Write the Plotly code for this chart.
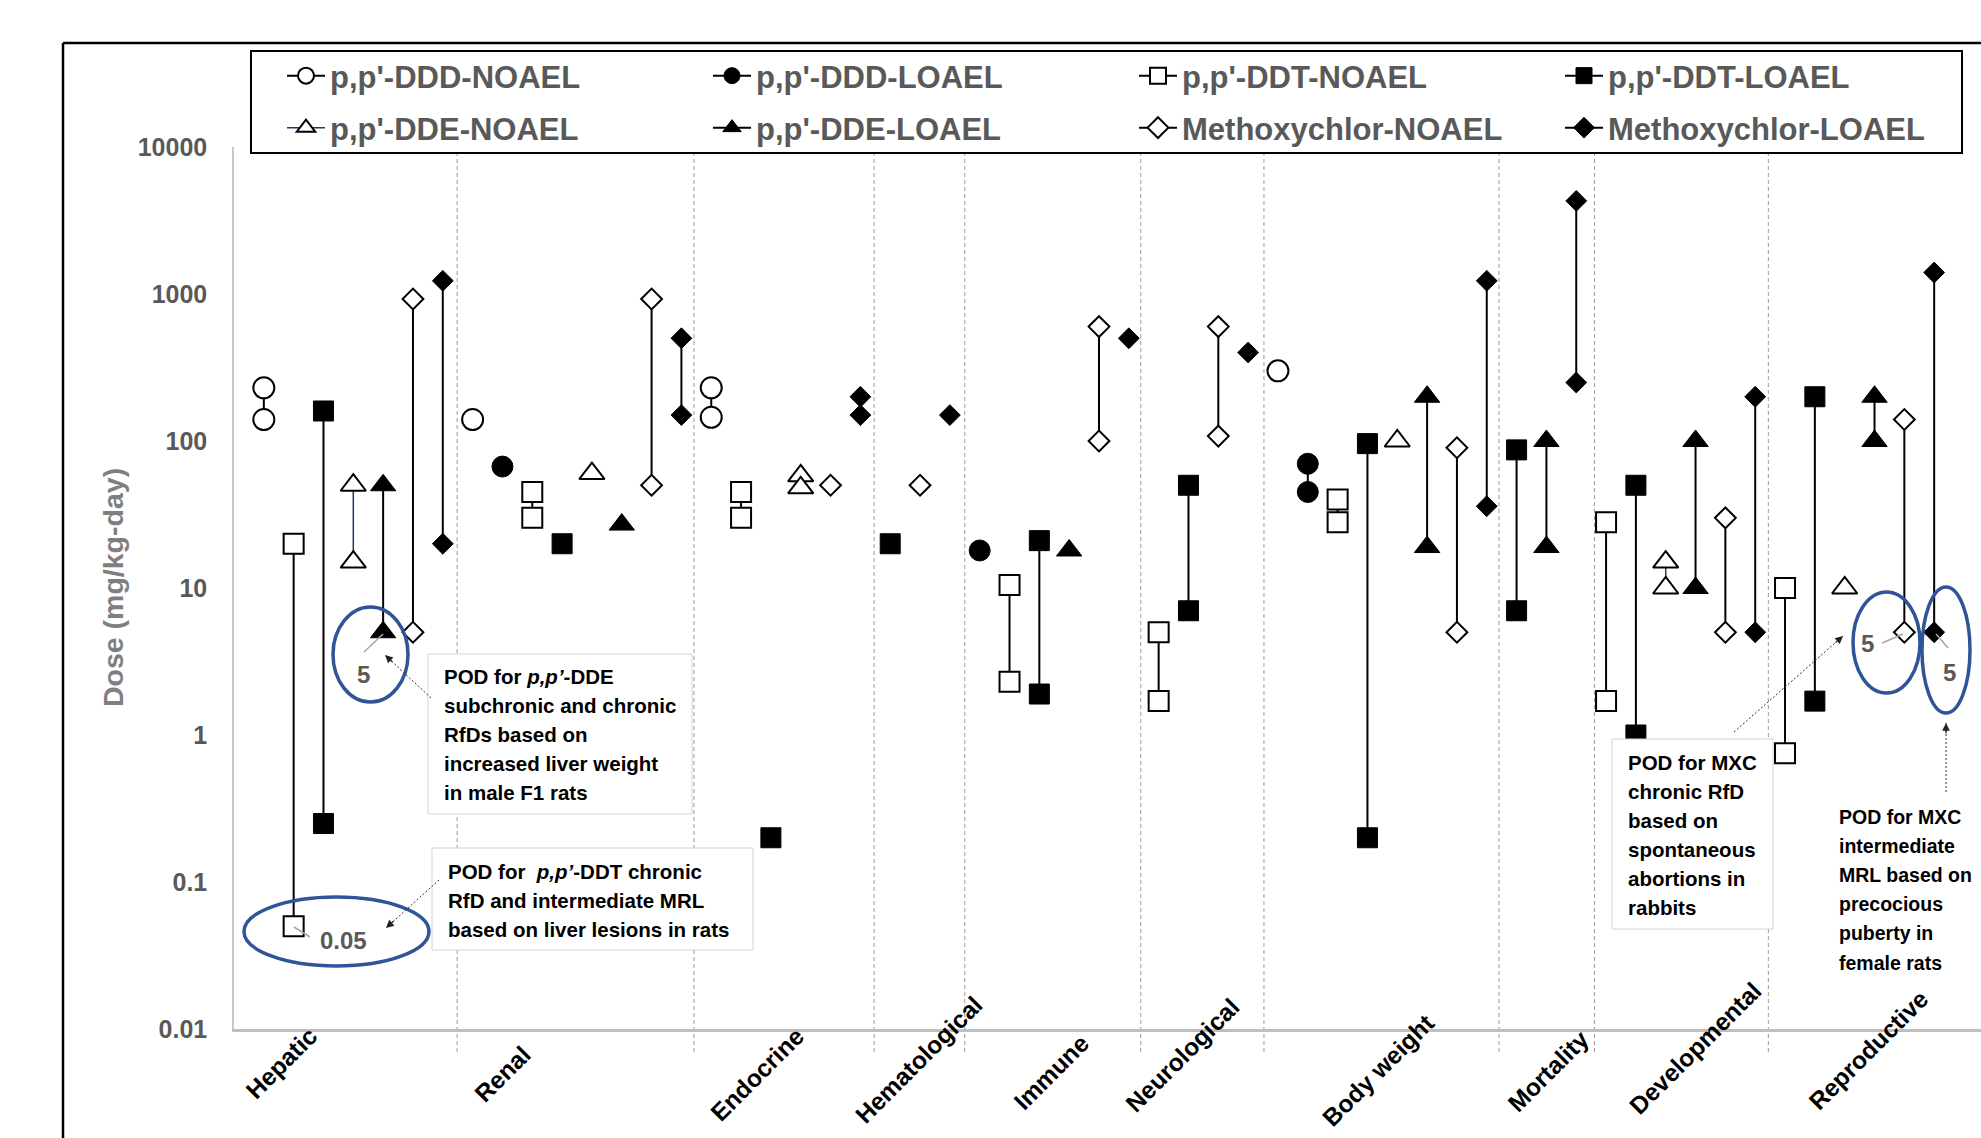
import plotly.graph_objects as go

# ---------------- data ----------------
CATEGORIES = ["Hepatic", "Renal", "Endocrine", "Hematological", "Immune",
              "Neurological", "Body weight", "Mortality", "Developmental", "Reproductive"]

# x = endpoint slot along the axis, y = dose (mg/kg-day); same slot -> joined by a line
DDD_NOAEL_X = [1, 1, 8, 16, 16, 35]
DDD_NOAEL_Y = [230, 140, 140, 230, 145, 300]

DDD_LOAEL_X = [9, 25, 36, 36]
DDD_LOAEL_Y = [67, 18, 70, 45]

DDT_NOAEL_X = [2, 2, 10, 10, 17, 17, 26, 26, 31, 31, 37, 37, 46, 46, 52, 52]
DDT_NOAEL_Y = [20, 0.05, 45, 30, 45, 30, 10.5, 2.3, 5, 1.7, 40, 28, 28, 1.7, 10, 0.75]

DDT_LOAEL_X = [3, 3, 11, 18, 22, 27, 27, 32, 32, 38, 38, 43, 43, 47, 47, 53, 53]
DDT_LOAEL_Y = [160, 0.25, 20, 0.2, 20, 21, 1.9, 50, 7, 96, 0.2, 87, 7, 50, 1, 200, 1.7]

DDE_NOAEL_X = [4, 4, 12, 19, 19, 39, 48, 48, 54]
DDE_NOAEL_Y = [50, 15, 60, 58, 48, 100, 15, 10, 10]

DDE_LOAEL_X = [5, 5, 13, 28, 40, 40, 44, 44, 49, 49, 55, 55]
DDE_LOAEL_Y = [50, 5, 27, 18, 200, 19, 100, 19, 100, 10, 200, 100]

MXC_NOAEL_X = [6, 6, 14, 14, 20, 23, 29, 29, 33, 33, 41, 41, 50, 50, 56, 56]
MXC_NOAEL_Y = [925, 5, 925, 50, 50, 50, 600, 100, 600, 108, 90, 5, 30, 5, 140, 5]

MXC_LOAEL_X = [7, 7, 15, 15, 21, 21, 24, 30, 34, 42, 42, 45, 45, 51, 51, 57, 57]
MXC_LOAEL_Y = [1230, 20, 500, 150, 200, 150, 150, 500, 400, 1230, 36, 4300, 250, 200, 5, 1400, 5]

Y_TICKS = [0.01, 0.1, 1, 10, 100, 1000, 10000]
Y_TICK_TEXT = ["0.01", "0.1", "1", "10", "100", "1000", "10000"]

SEPARATORS = [7.48, 15.42, 21.46, 24.5, 30.4, 34.53, 42.41, 45.61, 51.44]

BOX1_LINES = ["POD for <i>p,p’</i>-DDE", "subchronic and chronic", "RfDs based on",
              "increased liver weight", "in male F1 rats"]
BOX2_LINES = ["POD for  <i>p,p’</i>-DDT chronic", "RfD and intermediate MRL",
              "based on liver lesions in rats"]
BOX3_LINES = ["POD for MXC", "chronic RfD", "based on", "spontaneous", "abortions in", "rabbits"]
NOTE4_LINES = ["POD for MXC", "intermediate", "MRL based on", "precocious", "puberty in", "female rats"]

# ---------------- layout helpers ----------------
W, H = 1981, 1138
L, R, T, B = 234, 0, 147, 109
XMAX = 58.57
FONT = "Liberation Sans, Arial, sans-serif"


def px(xp):
    return (xp - L) / (W - L - R)


def py(yp):
    return (H - B - yp) / (H - T - B)


def segs(xs, ys):
    X, Y = [], []
    prev = None
    for x, y in zip(xs, ys):
        if prev is not None and x != prev:
            X.append(None)
            Y.append(None)
        X.append(x)
        Y.append(y)
        prev = x
    return X, Y


fig = go.Figure()

series = [
    ("p,p'-DDD-NOAEL", DDD_NOAEL_X, DDD_NOAEL_Y, "circle", 21, "white", "black", "legend"),
    ("p,p'-DDD-LOAEL", DDD_LOAEL_X, DDD_LOAEL_Y, "circle", 21, "black", "black", "legend"),
    ("p,p'-DDT-NOAEL", DDT_NOAEL_X, DDT_NOAEL_Y, "square", 20, "white", "black", "legend"),
    ("p,p'-DDT-LOAEL", DDT_LOAEL_X, DDT_LOAEL_Y, "square", 20, "black", "black", "legend"),
    ("p,p'-DDE-NOAEL", DDE_NOAEL_X, DDE_NOAEL_Y, "triangle-up", 22, "white", "#1F3864", "legend2"),
    ("p,p'-DDE-LOAEL", DDE_LOAEL_X, DDE_LOAEL_Y, "triangle-up", 22, "black", "black", "legend2"),
    ("Methoxychlor-NOAEL", MXC_NOAEL_X, MXC_NOAEL_Y, "diamond", 16, "white", "black", "legend2"),
    ("Methoxychlor-LOAEL", MXC_LOAEL_X, MXC_LOAEL_Y, "diamond", 16, "black", "black", "legend2"),
]

for name, xs, ys, sym, size, fill, lcol, leg in series:
    X, Y = segs(xs, ys)
    fig.add_trace(go.Scatter(
        x=X, y=Y, name=name, mode="lines+markers", legend=leg,
        line=dict(color=lcol, width=2 if lcol == "black" else 1.5),
        marker=dict(symbol=sym, size=size, color=fill,
                    line=dict(color="black", width=2 if fill == "white" else 1)),
        cliponaxis=False, hoverinfo="skip",
    ))

shapes = []
# separators between endpoint categories
for s in SEPARATORS:
    shapes.append(dict(type="line", xref="x", yref="paper", x0=s, x1=s,
                       y0=py(1052), y1=py(153), layer="below",
                       line=dict(color="#9a9a9a", width=1, dash="4px,3px")))
# outer chart border
shapes.append(dict(type="line", xref="paper", yref="paper", x0=px(63), x1=px(63),
                   y0=py(1140), y1=py(43), line=dict(color="black", width=2.5)))
shapes.append(dict(type="line", xref="paper", yref="paper", x0=px(63), x1=1.01,
                   y0=py(43), y1=py(43), line=dict(color="black", width=2.5)))
# legend box
shapes.append(dict(type="rect", xref="paper", yref="paper", x0=px(251), x1=px(1962),
                   y0=py(153), y1=py(51), fillcolor="white", layer="above",
                   line=dict(color="black", width=2)))
# annotation text boxes
for (x0, y0, x1, y1) in [(428, 654, 692, 814), (432, 848, 753, 950), (1612, 739, 1773, 929)]:
    shapes.append(dict(type="rect", xref="paper", yref="paper", x0=px(x0), x1=px(x1),
                       y0=py(y1), y1=py(y0), fillcolor="white", layer="above",
                       line=dict(color="#d4d4d4", width=1)))
# blue ellipses
for (x0, y0, x1, y1) in [(333, 607, 408, 702), (244, 897, 429, 966),
                         (1853, 592, 1920, 693), (1922, 587, 1970, 713)]:
    shapes.append(dict(type="circle", xref="paper", yref="paper", x0=px(x0), x1=px(x1),
                       y0=py(y1), y1=py(y0), layer="above",
                       line=dict(color="#2F5597", width=3.5)))
# leader lines for value labels
for (x0, y0, x1, y1) in [(364, 652, 383, 634), (294, 927, 310, 937),
                         (1882, 643, 1903, 634), (1936, 634, 1948, 648)]:
    shapes.append(dict(type="line", xref="paper", yref="paper", x0=px(x0), x1=px(x1),
                       y0=py(y0), y1=py(y1), layer="above",
                       line=dict(color="#a6a6a6", width=1.5)))
# dotted arrow shafts
arrows = [((431, 698), (385, 655)), ((439, 880), (386, 928)),
          ((1734, 732), (1843, 636)), ((1946, 792), (1946, 723))]
for (tx, ty), (hx, hy) in arrows:
    shapes.append(dict(type="line", xref="paper", yref="paper", x0=px(tx), x1=px(hx),
                       y0=py(ty), y1=py(hy), layer="above",
                       line=dict(color="#333333", width=1, dash="2px,2px")))

ann = []
# arrow heads
for (tx, ty), (hx, hy) in arrows:
    dx, dy = tx - hx, ty - hy
    n = (dx * dx + dy * dy) ** 0.5
    ann.append(dict(xref="paper", yref="paper", x=px(hx), y=py(hy), text="",
                    showarrow=True, ax=12 * dx / n, ay=12 * dy / n,
                    arrowhead=2, arrowsize=1.3, arrowwidth=1.2, arrowcolor="#222222"))
# y-axis title
ann.append(dict(xref="paper", yref="paper", x=px(113), y=py(588), text="<b>Dose (mg/kg-day)</b>",
                textangle=-90, showarrow=False, xanchor="center", yanchor="middle",
                font=dict(family=FONT, size=28.5, color="#7f7f7f")))
# category labels
CAT_POS = [(281, 1063), (502, 1074), (757, 1074), (918, 1060), (1051, 1072),
           (1182, 1055), (1378, 1070), (1548, 1071), (1695, 1048), (1868, 1050)]
for name, (cx, cy) in zip(CATEGORIES, CAT_POS):
    ann.append(dict(xref="paper", yref="paper", x=px(cx), y=py(cy), text="<b>%s</b>" % name,
                    textangle=-45, showarrow=False, xanchor="center", yanchor="middle",
                    font=dict(family=FONT, size=24.5, color="black")))
# callout text lines
for lines, (lx, ly0, fs) in [(BOX1_LINES, (442, 676, 20.5)), (BOX2_LINES, (446, 871, 20.5)),
                             (BOX3_LINES, (1626, 762, 20.5)), (NOTE4_LINES, (1837, 817, 19.5))]:
    for i, t in enumerate(lines):
        ann.append(dict(xref="paper", yref="paper", x=px(lx), y=py(ly0 + 29.1 * i),
                        text="<b>%s</b>" % t, showarrow=False, xanchor="left", yanchor="middle",
                        font=dict(family=FONT, size=fs, color="black")))
# value labels
for t, (vx, vy) in [("5", (363, 674)), ("0.05", (343, 940)), ("5", (1867, 643)), ("5", (1949, 672))]:
    ann.append(dict(xref="paper", yref="paper", x=px(vx), y=py(vy), text="<b>%s</b>" % t,
                    showarrow=False, xanchor="center", yanchor="middle",
                    font=dict(family=FONT, size=24, color="#595959")))

legend_common = dict(orientation="h", xanchor="left", yanchor="middle",
                     font=dict(family=FONT, size=31, color="#595959", weight="bold"),
                     bgcolor="rgba(0,0,0,0)", borderwidth=0, itemwidth=38,
                     entrywidth=373, entrywidthmode="pixels", traceorder="normal",
                     itemclick=False, itemdoubleclick=False)

fig.update_layout(
    width=W, height=H,
    margin=dict(l=L, r=R, t=T, b=B, autoexpand=False),
    paper_bgcolor="white", plot_bgcolor="white",
    showlegend=True,
    legend=dict(x=px(282), y=py(76), **legend_common),
    legend2=dict(x=px(282), y=py(128), **legend_common),
    xaxis=dict(range=[0, XMAX], showgrid=False, zeroline=False, showticklabels=False,
               ticks="", showline=True, linecolor="#bfbfbf", linewidth=2.5, fixedrange=True),
    yaxis=dict(type="log", range=[-2, 4], showgrid=False, zeroline=False,
               tickvals=Y_TICKS, ticktext=Y_TICK_TEXT, ticks="", ticklabelstandoff=20,
               tickfont=dict(family=FONT, size=25, color="#595959", weight="bold"),
               showline=True, linecolor="#c8c8c8", linewidth=1.5, fixedrange=True),
    shapes=shapes, annotations=ann,
)

fig.write_html("out.html", config={"displayModeBar": False},
               post_script="document.body.style.margin='0px';")
